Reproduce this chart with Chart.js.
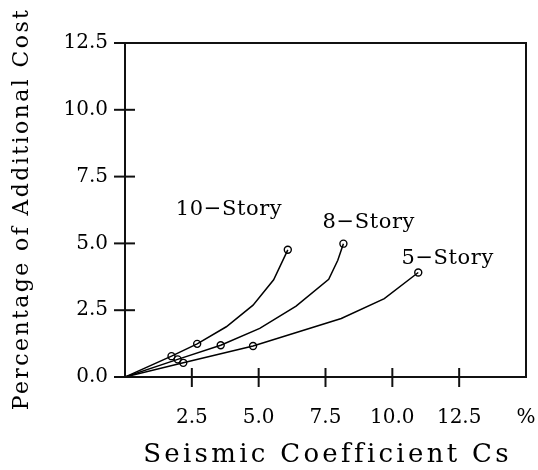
<!DOCTYPE html>
<html>
<head>
<meta charset="utf-8">
<script src="https://cdn.jsdelivr.net/npm/chart.js@4/dist/chart.umd.min.js"></script>
<style>
  html, body { margin: 0; padding: 0; background: #fff; }
  #wrap { width: 538px; height: 470px; }
</style>
</head>
<body>
<div id="wrap"><canvas id="chart"></canvas></div>
<script>
// ---- data ----
const story10X = [0, 1.74, 2.70, 3.79, 4.79, 5.56, 6.09];
const story10Y = [0, 0.78, 1.24, 1.88, 2.69, 3.64, 4.76];

const story8X = [0, 1.97, 3.58, 5.04, 6.40, 7.62, 7.96, 8.17];
const story8Y = [0, 0.66, 1.19, 1.82, 2.65, 3.66, 4.37, 4.99];

const story5X = [0, 2.18, 4.79, 8.09, 9.70, 10.97];
const story5Y = [0, 0.53, 1.16, 2.19, 2.93, 3.91];

const xTicks = [2.5, 5.0, 7.5, 10.0, 12.5];
const yTicks = [0, 2.5, 5.0, 7.5, 10.0, 12.5];

const xTitle = 'Seismic Coefficient Cs';
const yTitle = 'Percentage of Additional Cost';

// label text and anchor (data units)
const seriesNames = ['10\u2212Story', '8\u2212Story', '5\u2212Story'];
const labelX = [1.9, 7.39, 10.34];
const labelY = [6.27, 5.78, 4.44];

const FONT = '"DejaVu Serif", serif';

function toPoints(xs, ys) {
    return xs.map((x, i) => ({ x: x, y: ys[i] }));
}

// circles only on the 2nd, 3rd and last points of each curve
function markerRadius(ctx) {
    const n = ctx.dataset.data.length;
    const i = ctx.dataIndex;
    return (i === 1 || i === 2 || i === n - 1) ? 3.5 : 0;
}

function makeSet(xs, ys) {
    return {
        data: toPoints(xs, ys),
        borderColor: '#000',
        borderWidth: 1.5,
        pointRadius: markerRadius,
        pointHoverRadius: markerRadius,
        pointBorderColor: '#000',
        pointBackgroundColor: 'rgba(0,0,0,0)',
        pointBorderWidth: 1.4,
        tension: 0,
        fill: false
    };
}

/**
 * FRAME + CROSSING TICKS + TITLES + CURVE LABELS
 */
const framePlugin = {
    id: 'frame',
    afterDraw(chart) {
        const { ctx, chartArea: a, scales } = chart;
        const xs = scales.x, ys = scales.y;
        ctx.save();
        ctx.strokeStyle = '#111';
        ctx.lineWidth = 2;
        ctx.beginPath();
        ctx.rect(a.left, a.top, a.right - a.left, a.bottom - a.top);
        ctx.stroke();

        // y ticks cross the left axis
        yTicks.forEach(v => {
            const py = ys.getPixelForValue(v);
            ctx.beginPath();
            ctx.moveTo(a.left - 11, py);
            ctx.lineTo(v === 12.5 ? a.left : a.left + 10, py);
            ctx.stroke();
        });
        // x ticks cross the bottom axis
        xTicks.forEach(v => {
            const px = xs.getPixelForValue(v);
            ctx.beginPath();
            ctx.moveTo(px, a.bottom - 9);
            ctx.lineTo(px, a.bottom + 10);
            ctx.stroke();
        });

        ctx.fillStyle = '#000';
        ctx.textAlign = 'center';
        ctx.textBaseline = 'middle';

        // axis titles (wide, typewriter-like spacing)
        ctx.font = '26px ' + FONT;
        ctx.letterSpacing = '3.3px';
        ctx.fillText(xTitle, (a.left + a.right) / 2 + 2, 455);

        ctx.save();
        ctx.translate(22, (a.top + a.bottom) / 2);
        ctx.rotate(-Math.PI / 2);
        ctx.font = '22px ' + FONT;
        ctx.letterSpacing = '2.4px';
        ctx.fillText(yTitle, 1, 0);
        ctx.restore();

        // curve labels
        ctx.font = '21px ' + FONT;
        ctx.letterSpacing = '0.6px';
        ctx.textAlign = 'left';
        seriesNames.forEach((name, i) => {
            ctx.fillText(name, xs.getPixelForValue(labelX[i]), ys.getPixelForValue(labelY[i]));
        });
        ctx.restore();
    }
};

new Chart(document.getElementById('chart'), {
    type: 'line',
    data: {
        datasets: [
            makeSet(story10X, story10Y),
            makeSet(story8X, story8Y),
            makeSet(story5X, story5Y)
        ]
    },
    options: {
        responsive: true,
        maintainAspectRatio: false,
        animation: false,
        layout: { padding: { left: 0, top: 43, right: 12, bottom: 0 } },
        plugins: {
            legend: { display: false },
            tooltip: { enabled: false }
        },
        scales: {
            x: {
                type: 'linear',
                min: 0,
                max: 15,
                afterFit(scale) {
                    scale.height = 93;
                    scale.paddingLeft = 0;
                    scale.paddingRight = 0;
                },
                afterBuildTicks(scale) {
                    scale.ticks = xTicks.concat([15]).map(v => ({ value: v }));
                },
                grid: { display: false, drawTicks: false },
                border: { display: false },
                ticks: {
                    color: '#000',
                    padding: 29,
                    maxRotation: 0,
                    autoSkip: false,
                    font: { family: FONT, size: 20 },
                    callback: v => v === 15 ? '%' : v.toFixed(1)
                },
                title: { display: false }
            },
            y: {
                type: 'linear',
                min: 0,
                max: 12.5,
                afterFit(scale) { scale.width = 125; },
                afterBuildTicks(scale) {
                    scale.ticks = yTicks.map(v => ({ value: v }));
                },
                grid: { display: false, drawTicks: false },
                border: { display: false },
                ticks: {
                    color: '#000',
                    padding: 17,
                    autoSkip: false,
                    font: { family: FONT, size: 20 },
                    callback: v => v.toFixed(1)
                },
                title: { display: false }
            }
        }
    },
    plugins: [framePlugin]
});
</script>
</body>
</html>
